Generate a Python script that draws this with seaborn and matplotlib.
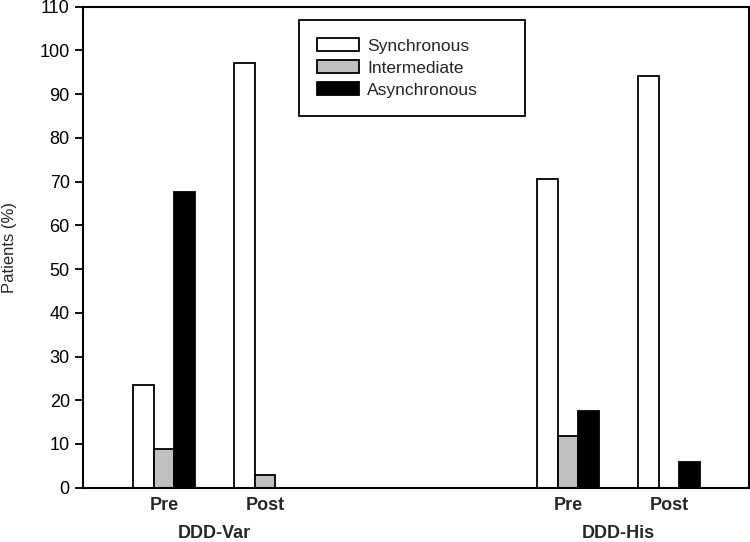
import matplotlib
matplotlib.use("Agg")
import matplotlib.pyplot as plt
import matplotlib.transforms as mtransforms
import seaborn as sns
import pandas as pd

# data
groups = ["DDD-Var", "DDD-Var", "DDD-His", "DDD-His"]
phases = ["Pre", "Post", "Pre", "Post"]
synchronous = [23.5, 97.1, 70.6, 94.1]
intermediate = [8.8, 2.9, 11.8, 0.0]
asynchronous = [67.6, 0.0, 17.6, 5.9]
states = ["Synchronous", "Intermediate", "Asynchronous"]
colors = {"Synchronous": "white", "Intermediate": "#c0c0c0", "Asynchronous": "black"}

# slot of each bar cluster on the x axis (gap between the two groups)
slots = [1, 2, 5, 6]

rows = []
for i in range(len(phases)):
    for state, vals in zip(states, [synchronous, intermediate, asynchronous]):
        rows.append({"slot": slots[i], "state": state, "pct": vals[i]})
df = pd.DataFrame(rows)

sns.set_style("ticks")
plt.rcParams["font.family"] = ["Liberation Sans", "DejaVu Sans"]
narrow = ["Liberation Sans Narrow", "Liberation Sans"]

fig = plt.figure(figsize=(7.5, 5.42), dpi=100)
ax = fig.add_axes([0.1107, 0.1002, 0.888, 0.8874])

sns.barplot(data=df, x="slot", y="pct", hue="state", hue_order=states,
            palette=colors, native_scale=True, width=0.61, saturation=1,
            errorbar=None, edgecolor="black", linewidth=1.3, ax=ax)

ax.set_xlim(0.2, 6.79)
ax.set_ylim(0, 110)
ax.set_yticks(range(0, 111, 10))
ax.tick_params(axis="y", labelsize=13, length=6, width=1.3, direction="out",
               colors="black")
ax.set_xticks(slots)
ax.set_xticklabels(phases, family=narrow, fontweight="bold", fontsize=13)
ax.tick_params(axis="x", length=0, pad=7)
ax.set_xlabel("")
ax.set_ylabel("Patients (%)", fontsize=12, labelpad=16)

for sp in ax.spines.values():
    sp.set_visible(True)
    sp.set_linewidth(1.5)
    sp.set_color("black")

# group labels under the phase labels
trans = mtransforms.blended_transform_factory(ax.transData, ax.transAxes)
for g in ["DDD-Var", "DDD-His"]:
    xs = [s for s, gg in zip(slots, groups) if gg == g]
    ax.text(sum(xs) / len(xs), -0.095, g, transform=trans, ha="center", va="center",
            family=narrow, fontweight="bold", fontsize=13)

handles, labels = ax.get_legend_handles_labels()
if ax.get_legend() is not None:
    ax.get_legend().remove()
leg = ax.legend(handles, labels, loc="upper left",
                bbox_to_anchor=(0.324, 0.781, 0.339, 0.191), mode="expand",
                borderaxespad=0, fancybox=False, framealpha=1, edgecolor="black",
                fontsize=12.5, handlelength=2.4, handleheight=0.75,
                handletextpad=0.5, labelspacing=0.37, borderpad=1.05)
leg.get_frame().set_linewidth(1.3)

fig.savefig("out.png", dpi=100)
